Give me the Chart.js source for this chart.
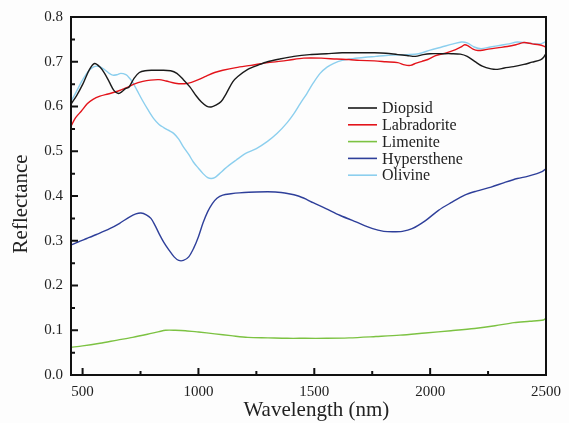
<!DOCTYPE html>
<html>
<head>
<meta charset="utf-8">
<script src="https://cdn.jsdelivr.net/npm/chart.js@4.4.1/dist/chart.umd.min.js"></script>
<style>
  html, body { margin: 0; padding: 0; background: #fdfdfd; }
  #wrap { width: 569px; height: 423px; }
</style>
</head>
<body>
<div id="wrap"><canvas id="spectra"></canvas></div>
<script>
// spectra (wavelength in nm, reflectance)
const diopsidWl = [450, 475, 502, 530, 552, 575, 595, 615, 635, 655, 672, 685, 700, 722, 745, 770, 800, 840, 880, 907, 935, 963, 990, 1013, 1035, 1055, 1075, 1098, 1120, 1148, 1170, 1213, 1260, 1298, 1350, 1412, 1480, 1553, 1620, 1695, 1760, 1809, 1860, 1900, 1936, 1970, 2000, 2050, 2093, 2130, 2160, 2192, 2225, 2263, 2290, 2320, 2360, 2405, 2440, 2476, 2490, 2500];
const diopsidR = [0.605, 0.625, 0.651, 0.683, 0.696, 0.688, 0.674, 0.655, 0.636, 0.629, 0.634, 0.640, 0.643, 0.663, 0.676, 0.680, 0.681, 0.681, 0.680, 0.674, 0.660, 0.644, 0.624, 0.610, 0.601, 0.599, 0.603, 0.611, 0.629, 0.655, 0.667, 0.683, 0.693, 0.700, 0.706, 0.712, 0.716, 0.718, 0.720, 0.720, 0.720, 0.719, 0.716, 0.714, 0.712, 0.716, 0.718, 0.718, 0.718, 0.717, 0.712, 0.701, 0.690, 0.684, 0.683, 0.686, 0.689, 0.694, 0.699, 0.704, 0.710, 0.719];

const labradoriteWl = [450, 470, 495, 520, 545, 575, 610, 651, 690, 722, 760, 793, 830, 860, 900, 940, 970, 1000, 1034, 1070, 1105, 1162, 1227, 1300, 1383, 1454, 1530, 1596, 1650, 1695, 1760, 1809, 1860, 1890, 1915, 1940, 1965, 1990, 2021, 2070, 2110, 2134, 2149, 2165, 2185, 2206, 2240, 2290, 2333, 2370, 2405, 2440, 2470, 2490, 2500];
const labradoriteR = [0.556, 0.575, 0.590, 0.606, 0.616, 0.623, 0.628, 0.634, 0.642, 0.650, 0.656, 0.659, 0.660, 0.657, 0.652, 0.651, 0.654, 0.660, 0.668, 0.676, 0.681, 0.687, 0.692, 0.698, 0.703, 0.708, 0.708, 0.706, 0.705, 0.703, 0.702, 0.700, 0.698, 0.693, 0.692, 0.697, 0.701, 0.705, 0.713, 0.720, 0.727, 0.733, 0.738, 0.735, 0.728, 0.725, 0.727, 0.731, 0.734, 0.738, 0.743, 0.740, 0.738, 0.735, 0.732];

const limeniteWl = [450, 500, 575, 650, 716, 780, 830, 858, 900, 944, 1000, 1071, 1140, 1213, 1300, 1383, 1460, 1553, 1650, 1766, 1870, 1979, 2090, 2192, 2280, 2362, 2430, 2489, 2500];
const limeniteR = [0.062, 0.065, 0.071, 0.078, 0.084, 0.091, 0.097, 0.100, 0.100, 0.099, 0.096, 0.092, 0.088, 0.084, 0.083, 0.082, 0.082, 0.082, 0.083, 0.086, 0.089, 0.094, 0.099, 0.104, 0.110, 0.117, 0.120, 0.123, 0.127];

const hyperstheneWl = [450, 480, 518, 560, 617, 660, 702, 730, 752, 775, 795, 812, 830, 850, 873, 895, 915, 935, 958, 980, 1000, 1020, 1040, 1060, 1080, 1105, 1140, 1176, 1250, 1332, 1390, 1431, 1468, 1495, 1550, 1610, 1680, 1752, 1800, 1837, 1880, 1922, 1980, 2036, 2090, 2149, 2200, 2263, 2320, 2376, 2420, 2461, 2485, 2500];
const hyperstheneR = [0.290, 0.297, 0.305, 0.314, 0.327, 0.339, 0.353, 0.360, 0.362, 0.358, 0.350, 0.335, 0.316, 0.297, 0.279, 0.264, 0.256, 0.256, 0.264, 0.284, 0.309, 0.340, 0.365, 0.383, 0.395, 0.402, 0.405, 0.407, 0.409, 0.409, 0.405, 0.400, 0.392, 0.385, 0.372, 0.357, 0.342, 0.327, 0.321, 0.320, 0.321, 0.327, 0.345, 0.368, 0.385, 0.402, 0.411, 0.420, 0.430, 0.439, 0.444, 0.450, 0.455, 0.461];

const olivineWl = [450, 470, 495, 515, 531, 550, 566, 585, 601, 615, 630, 648, 665, 687, 700, 715, 735, 758, 782, 807, 830, 850, 870, 893, 915, 935, 958, 978, 1000, 1020, 1040, 1055, 1070, 1091, 1112, 1133, 1162, 1200, 1250, 1298, 1340, 1383, 1412, 1440, 1468, 1495, 1525, 1555, 1582, 1620, 1667, 1720, 1766, 1809, 1851, 1900, 1950, 2000, 2050, 2100, 2135, 2160, 2190, 2220, 2260, 2305, 2340, 2376, 2420, 2476, 2500];
const olivineR = [0.612, 0.630, 0.655, 0.672, 0.682, 0.689, 0.690, 0.686, 0.680, 0.674, 0.670, 0.671, 0.674, 0.671, 0.665, 0.655, 0.636, 0.614, 0.593, 0.573, 0.560, 0.553, 0.547, 0.540, 0.527, 0.510, 0.493, 0.476, 0.462, 0.450, 0.441, 0.439, 0.441, 0.450, 0.460, 0.469, 0.480, 0.494, 0.506, 0.522, 0.540, 0.564, 0.584, 0.607, 0.629, 0.652, 0.674, 0.688, 0.696, 0.703, 0.707, 0.710, 0.712, 0.714, 0.715, 0.716, 0.718, 0.726, 0.733, 0.740, 0.744, 0.742, 0.733, 0.729, 0.733, 0.737, 0.740, 0.744, 0.742, 0.740, 0.745];

// axis ticks
const xTicks = [500, 1000, 1500, 2000, 2500];
const xMinorTicks = [750, 1250, 1750, 2250];
const yTicks = [0, 0.1, 0.2, 0.3, 0.4, 0.5, 0.6, 0.7, 0.8];
const yMinorTicks = [0.05, 0.15, 0.25, 0.35, 0.45, 0.55, 0.65, 0.75];

const serif = "'Liberation Serif', 'DejaVu Serif', serif";

function pts(wl, r) {
    return wl.map((w, i) => ({ x: w, y: r[i] }));
}

function series(label, wl, r, color) {
    return {
        label: label,
        data: pts(wl, r),
        borderColor: color,
        backgroundColor: color,
        borderWidth: 1.4,
        pointRadius: 0,
        tension: 0.3,
        fill: false
    };
}

// frame box, inward ticks and the legend inside the plot
const frameTicks = {
    id: 'frameTicks',
    afterDraw(chart) {
        const { ctx, chartArea: a, scales: { x, y } } = chart;
        ctx.save();
        ctx.strokeStyle = '#111';
        ctx.lineWidth = 2;
        ctx.strokeRect(a.left, a.top, a.right - a.left, a.bottom - a.top);

        ctx.beginPath();
        xTicks.forEach(v => {
            const px = x.getPixelForValue(v);
            ctx.moveTo(px, a.bottom);
            ctx.lineTo(px, a.bottom - 7);
        });
        xMinorTicks.forEach(v => {
            const px = x.getPixelForValue(v);
            ctx.moveTo(px, a.bottom);
            ctx.lineTo(px, a.bottom - 4);
        });
        yTicks.forEach(v => {
            const py = y.getPixelForValue(v);
            ctx.moveTo(a.left, py);
            ctx.lineTo(a.left + 7, py);
        });
        yMinorTicks.forEach(v => {
            const py = y.getPixelForValue(v);
            ctx.moveTo(a.left, py);
            ctx.lineTo(a.left + 4, py);
        });
        ctx.stroke();

        // legend
        const lx = 348, ly = 108, gap = 16.8;
        ctx.font = '16px ' + serif;
        ctx.textBaseline = 'middle';
        ctx.textAlign = 'left';
        chart.data.datasets.forEach((ds, i) => {
            const yy = ly + i * gap;
            ctx.strokeStyle = ds.borderColor;
            ctx.lineWidth = 1.6;
            ctx.beginPath();
            ctx.moveTo(lx, yy);
            ctx.lineTo(lx + 29, yy);
            ctx.stroke();
            ctx.fillStyle = '#222';
            ctx.fillText(ds.label, lx + 34, yy + 1);
        });
        ctx.restore();
    }
};

const ctx = document.getElementById('spectra').getContext('2d');
new Chart(ctx, {
    type: 'line',
    data: {
        datasets: [
            series('Diopsid', diopsidWl, diopsidR, '#1a1a1a'),
            series('Labradorite', labradoriteWl, labradoriteR, '#e3141b'),
            series('Limenite', limeniteWl, limeniteR, '#7cc242'),
            series('Hypersthene', hyperstheneWl, hyperstheneR, '#2e3f9a'),
            series('Olivine', olivineWl, olivineR, '#8ccfee')
        ]
    },
    options: {
        responsive: true,
        maintainAspectRatio: false,
        animation: false,
        layout: { padding: { top: 17, right: 16, left: 0, bottom: 0 } },
        scales: {
            x: {
                type: 'linear',
                min: 450,
                max: 2500,
                grid: { display: false, drawTicks: false },
                border: { display: false },
                afterBuildTicks: axis => { axis.ticks = xTicks.map(v => ({ value: v })); },
                afterFit: axis => { axis.height = 48; },
                ticks: {
                    color: '#222',
                    padding: 8,
                    maxRotation: 0,
                    font: { family: serif, size: 15 },
                    callback: v => String(v)
                },
                title: {
                    display: true,
                    text: '   Wavelength (nm)',
                    color: '#222',
                    padding: { top: 0, bottom: 0 },
                    font: { family: serif, size: 21 }
                }
            },
            y: {
                min: 0,
                max: 0.8,
                grid: { display: false, drawTicks: false },
                border: { display: false },
                afterBuildTicks: axis => { axis.ticks = yTicks.map(v => ({ value: v })); },
                afterFit: axis => { axis.width = 71; },
                ticks: {
                    color: '#222',
                    padding: 8,
                    font: { family: serif, size: 15 },
                    callback: v => v.toFixed(1)
                },
                title: {
                    display: true,
                    text: 'Reflectance   ',
                    color: '#222',
                    padding: { top: 9, bottom: 0 },
                    font: { family: serif, size: 21 }
                }
            }
        },
        plugins: {
            legend: { display: false },
            tooltip: { enabled: false }
        }
    },
    plugins: [frameTicks]
});
</script>
</body>
</html>
